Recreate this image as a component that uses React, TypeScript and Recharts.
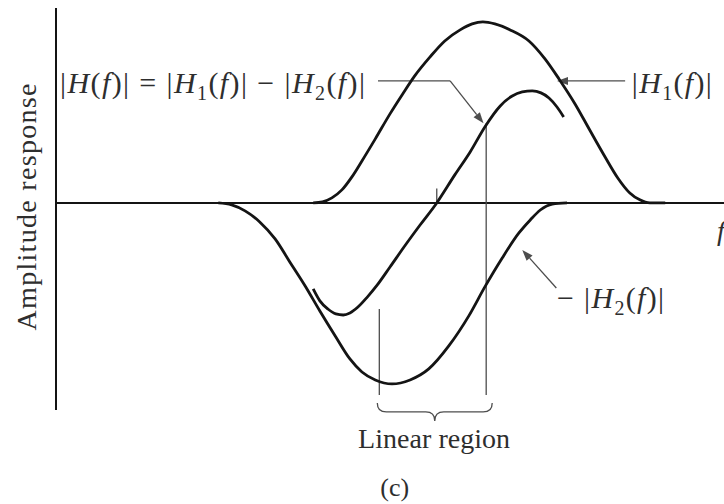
import React from 'react';
import { LineChart, Line, XAxis, YAxis, ReferenceLine, ReferenceDot, Label } from 'recharts';

// Frequency axis runs 0..100 (arbitrary units); amplitude is normalised so the |H1| peak is 1.

// |H1(f)| — upper tuned circuit
const h1Freq = [38.5, 39.9, 41.3, 42.8, 44.3, 45.8, 47.8, 50.0, 51.9, 53.7, 56.0, 58.2, 60.5, 62.3, 63.9, 65.7, 68.0, 70.8, 73.2, 75.3, 77.7, 79.9, 82.2, 84.1, 85.9, 87.4, 88.9, 91.2];
const h1Amp = [0, 0.006, 0.028, 0.072, 0.144, 0.232, 0.354, 0.492, 0.602, 0.702, 0.807, 0.895, 0.956, 0.989, 1.0, 0.989, 0.956, 0.895, 0.796, 0.685, 0.547, 0.403, 0.254, 0.138, 0.055, 0.017, 0, 0];

// −|H2(f)| — lower tuned circuit, inverted
const h2Freq = [24.3, 26.3, 28.3, 30.5, 32.8, 35.0, 37.3, 39.5, 41.8, 44.0, 45.8, 47.8, 50.3, 53.0, 55.8, 58.8, 61.8, 64.2, 66.8, 69.3, 71.0, 72.5, 74.3, 76.5];
const h2Amp = [0, -0.011, -0.044, -0.105, -0.199, -0.326, -0.459, -0.597, -0.735, -0.862, -0.934, -0.978, -1.0, -0.978, -0.917, -0.79, -0.624, -0.464, -0.304, -0.166, -0.094, -0.039, -0.006, 0];

// |H(f)| = |H1(f)| − |H2(f)| — combined discriminator response
const hFreq = [38.5, 39.5, 40.7, 41.9, 43.0, 44.0, 45.2, 46.6, 48.1, 50.0, 52.2, 54.5, 57.0, 59.7, 62.0, 64.2, 66.5, 68.3, 69.8, 71.3, 72.6, 73.8, 75.0, 76.0];
const hAmp = [-0.475, -0.541, -0.586, -0.613, -0.619, -0.608, -0.575, -0.52, -0.453, -0.354, -0.238, -0.122, 0, 0.155, 0.282, 0.42, 0.536, 0.591, 0.613, 0.619, 0.608, 0.58, 0.53, 0.475];

const toPoints = (fs: number[], vs: number[]) => fs.map((f, i) => ({ f, v: vs[i] }));
const h1Data = toPoints(h1Freq, h1Amp);
const h2Data = toPoints(h2Freq, h2Amp);
const hData = toPoints(hFreq, hAmp);

const ink = '#141414';
const guide = '#4d4d4d';
const textInk = '#2e2e2e';
const serif = "'Liberation Serif', 'Times New Roman', Times, serif";

const plainSegment = (p: any) => (
  <line x1={p.x1} y1={p.y1} x2={p.x2} y2={p.y2} stroke={guide} strokeWidth={1.3} />
);

const arrowSegment = (p: any) => {
  const { x1, y1, x2, y2 } = p;
  const a = Math.atan2(y2 - y1, x2 - x1);
  const len = 11;
  const half = 4;
  const bx = x2 - len * Math.cos(a);
  const by = y2 - len * Math.sin(a);
  const px = -Math.sin(a) * half;
  const py = Math.cos(a) * half;
  return (
    <g>
      <line x1={x1} y1={y1} x2={bx} y2={by} stroke={guide} strokeWidth={1.3} />
      <polygon points={`${x2},${y2} ${bx + px},${by + py} ${bx - px},${by - py}`} fill={guide} />
    </g>
  );
};

const braceSegment = (p: any) => {
  const { x1, x2, y1 } = p;
  const mid = (x1 + x2) / 2;
  const h = 9;
  const d = `M${x1},${y1} Q${x1},${y1 + h} ${x1 + 9},${y1 + h} L${mid - 9},${y1 + h} Q${mid},${y1 + h} ${mid},${y1 + 2 * h} Q${mid},${y1 + h} ${mid + 9},${y1 + h} L${x2 - 9},${y1 + h} Q${x2},${y1 + h} ${x2},${y1}`;
  return <path d={d} fill="none" stroke={guide} strokeWidth={1.3} />;
};

const textShape = (dx: number, dy: number, content: React.ReactNode, extra: any = {}) => (p: any) => (
  <text x={p.cx + dx} y={p.cy + dy} style={{ fontFamily: serif }} fill={textInk} {...extra}>
    {content}
  </text>
);

const sub = (d: string) => (
  <>
    <tspan fontSize={20} dy={7}>{d}</tspan>
    <tspan dy={-7}>(</tspan>
  </>
);

const equation = (
  <>
    <tspan>|</tspan>
    <tspan fontStyle="italic">H</tspan>
    <tspan>(</tspan>
    <tspan fontStyle="italic">f</tspan>
    <tspan>)| = |</tspan>
    <tspan fontStyle="italic">H</tspan>
    {sub('1')}
    <tspan fontStyle="italic">f</tspan>
    <tspan>)| − |</tspan>
    <tspan fontStyle="italic">H</tspan>
    {sub('2')}
    <tspan fontStyle="italic">f</tspan>
    <tspan>)|</tspan>
  </>
);

const h1Label = (
  <>
    <tspan>|</tspan>
    <tspan fontStyle="italic">H</tspan>
    {sub('1')}
    <tspan fontStyle="italic">f</tspan>
    <tspan>)|</tspan>
  </>
);

const h2Label = (
  <>
    <tspan>− |</tspan>
    <tspan fontStyle="italic">H</tspan>
    {sub('2')}
    <tspan fontStyle="italic">f</tspan>
    <tspan>)|</tspan>
  </>
);

const yLabel = (p: any) => {
  const vb = p.viewBox || { x: 0, y: 8, width: 56, height: 402 };
  const cx = vb.x + 36;
  const cy = vb.y + vb.height / 2 - 2;
  return (
    <text
      x={cx}
      y={cy}
      transform={`rotate(-90, ${cx}, ${cy})`}
      textAnchor="middle"
      style={{ fontFamily: serif }}
      fontSize={28}
      fill={textInk}
      textLength={247}
      lengthAdjust="spacing"
    >
      Amplitude response
    </text>
  );
};

export default function App() {
  return (
    <div style={{ position: 'absolute', left: 0, top: 0, width: 724, height: 504, background: '#fff' }}>
      <LineChart width={724} height={504} margin={{ top: 8, right: 0, bottom: 94, left: 0 }}>
        <XAxis type="number" dataKey="f" domain={[0, 100]} hide />
        <YAxis
          type="number"
          dataKey="v"
          domain={[-1.144, 1.077]}
          width={56}
          tick={false}
          tickLine={false}
          axisLine={{ stroke: ink, strokeWidth: 2 }}
        >
          <Label content={yLabel} />
        </YAxis>

        <ReferenceLine y={0} stroke={ink} strokeWidth={2} />

        {/* linear-region markers and zero-crossing tick */}
        <ReferenceLine segment={[{ x: 48.4, y: -0.586 }, { x: 48.4, y: -1.061 }]} shape={plainSegment} />
        <ReferenceLine segment={[{ x: 64.4, y: 0.44 }, { x: 64.4, y: -1.061 }]} shape={plainSegment} />
        <ReferenceLine segment={[{ x: 57.0, y: 0 }, { x: 57.0, y: 0.08 }]} shape={plainSegment} />
        <ReferenceLine segment={[{ x: 48.1, y: -1.105 }, { x: 65.3, y: -1.105 }]} shape={braceSegment} />

        {/* leader arrows */}
        <ReferenceLine segment={[{ x: 48.2, y: 0.674 }, { x: 59.0, y: 0.674 }]} shape={plainSegment} />
        <ReferenceLine segment={[{ x: 59.0, y: 0.674 }, { x: 64.0, y: 0.44 }]} shape={arrowSegment} />
        <ReferenceLine segment={[{ x: 85.2, y: 0.674 }, { x: 75.0, y: 0.674 }]} shape={arrowSegment} />
        <ReferenceLine segment={[{ x: 74.9, y: -0.47 }, { x: 69.8, y: -0.26 }]} shape={arrowSegment} />

        <Line data={h1Data} dataKey="v" type="monotone" stroke={ink} strokeWidth={2.8} dot={false} isAnimationActive={false} />
        <Line data={h2Data} dataKey="v" type="monotone" stroke={ink} strokeWidth={2.8} dot={false} isAnimationActive={false} />
        <Line data={hData} dataKey="v" type="monotone" stroke={ink} strokeWidth={2.8} dot={false} isAnimationActive={false} />

        {/* text annotations */}
        <ReferenceDot x={0.6} y={0.608} r={1} ifOverflow="visible"
          shape={textShape(0, 0, equation, { fontSize: 30, textLength: 305, lengthAdjust: 'spacing' })} />
        <ReferenceDot x={86.2} y={0.608} r={1} ifOverflow="visible"
          shape={textShape(0, 0, h1Label, { fontSize: 30, textLength: 80, lengthAdjust: 'spacing' })} />
        <ReferenceDot x={75.0} y={-0.58} r={1} ifOverflow="visible"
          shape={textShape(0, 0, h2Label, { fontSize: 30, textLength: 107, lengthAdjust: 'spacing' })} />
        <ReferenceDot x={56.6} y={-1.354} r={1} ifOverflow="visible"
          shape={textShape(0, 0, 'Linear region', { fontSize: 28, textAnchor: 'middle', textLength: 152, lengthAdjust: 'spacing' })} />
        <ReferenceDot x={50.7} y={-1.619} r={1} ifOverflow="visible"
          shape={textShape(0, 0, '(c)', { fontSize: 26, textAnchor: 'middle' })} />
        <ReferenceDot x={100} y={0} r={1} ifOverflow="visible"
          shape={textShape(-7, 37, 'f', { fontSize: 28, fontStyle: 'italic' })} />
      </LineChart>
    </div>
  );
}
